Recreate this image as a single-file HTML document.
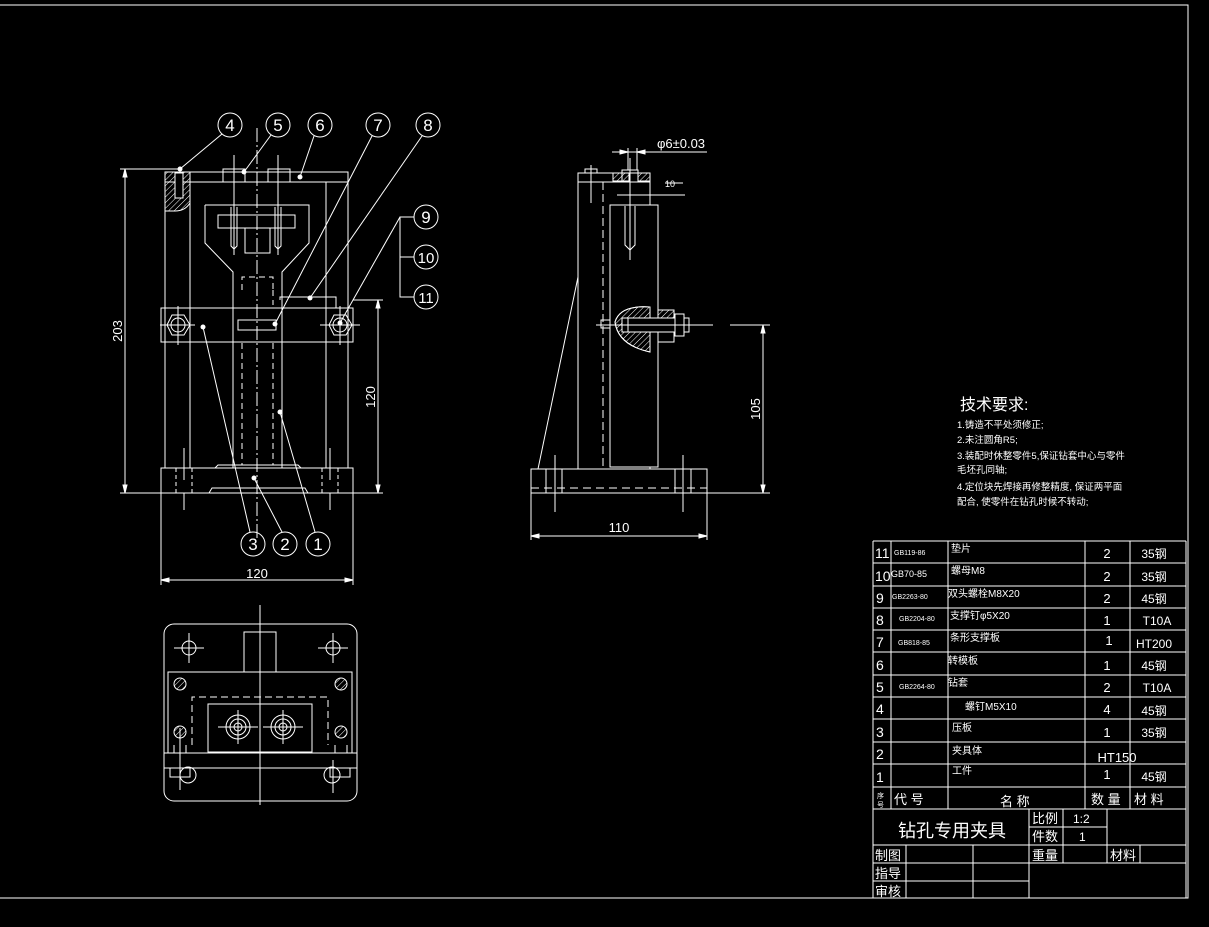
<!DOCTYPE html>
<html><head><meta charset="utf-8"><style>
html,body{margin:0;padding:0;background:#000;}
svg{display:block}
text{fill:#fff;font-family:"Liberation Sans","Noto Sans CJK SC",sans-serif;}
</style></head><body>
<svg width="1209" height="927" viewBox="0 0 1209 927" xmlns="http://www.w3.org/2000/svg">
<defs>
<pattern id="h" width="4" height="4" patternUnits="userSpaceOnUse" patternTransform="rotate(45)"><line x1="0" y1="0" x2="0" y2="4" stroke="#fff" stroke-width="1"/></pattern>
</defs>
<g stroke="#fff" stroke-width="1" fill="none">
<polyline points="0,5 1188,5 1188,898 0,898"/>

<!-- ===== FRONT VIEW ===== -->
<rect x="165" y="172" width="183" height="10"/>
<path d="M165,172 L190,172 L190,203 Q185,211 175,211 L165,211 Z" fill="url(#h)"/>
<rect x="175" y="173" width="8" height="25" fill="#000"/>
<rect x="223" y="169" width="22" height="13"/><rect x="268" y="169" width="22" height="13"/>
<line x1="165" y1="182" x2="165" y2="468"/><line x1="190" y1="182" x2="190" y2="468"/>
<line x1="326" y1="182" x2="326" y2="468"/><line x1="348" y1="182" x2="348" y2="468"/>
<line x1="184" y1="448" x2="184" y2="480"/><line x1="330" y1="448" x2="330" y2="480"/>
<path d="M205,205 H309 V243 L282,272 V468 M205,205 V243 L233,272 V468"/>
<rect x="218" y="215" width="77" height="13"/>
<path d="M245,228 V253 H270 V228"/>
<path d="M231,207 V246 L234,249 L237,246 V207 M275,207 V246 L278,249 L281,246 V207"/>
<line x1="234" y1="155" x2="234" y2="255"/><line x1="278" y1="155" x2="278" y2="255"/>
<line x1="257" y1="128" x2="257" y2="540" stroke-dasharray="14,3,2,3"/>
<g stroke-dasharray="6,4">
<path d="M242,290 V277 H273 V290"/>
<line x1="233" y1="343" x2="233" y2="465"/><line x1="242" y1="343" x2="242" y2="465"/>
<line x1="273" y1="343" x2="273" y2="465"/><line x1="282" y1="343" x2="282" y2="465"/>
<line x1="273" y1="290" x2="273" y2="305"/>
</g>
<path d="M280,300 V297 H336 V308"/>
<rect x="161" y="308" width="192" height="34"/>
<rect x="238" y="320" width="38" height="10"/>
<polygon points="167,325 172,315 184,315 190,325 184,335 172,335"/><circle cx="178" cy="325" r="7"/>
<polygon points="329,325 334,315 346,315 352,325 346,335 334,335"/><circle cx="340" cy="325" r="7"/>
<line x1="160" y1="325" x2="195" y2="325"/><line x1="320" y1="325" x2="360" y2="325"/>
<line x1="178" y1="306" x2="178" y2="345"/><line x1="340" y1="306" x2="340" y2="345"/>
<path d="M161,468 H353 V493 H308 L305,488 H212 L209,493 H161 Z"/>
<path d="M215,468 L218,465 H298 L301,468"/>
<line x1="176" y1="468" x2="176" y2="493" stroke-dasharray="4,3"/><line x1="192" y1="468" x2="192" y2="493" stroke-dasharray="4,3"/>
<line x1="322" y1="468" x2="322" y2="493" stroke-dasharray="4,3"/><line x1="338" y1="468" x2="338" y2="493" stroke-dasharray="4,3"/>
<line x1="184" y1="493" x2="184" y2="510"/><line x1="330" y1="493" x2="330" y2="510"/>
<line x1="120" y1="169" x2="180" y2="169"/><line x1="120" y1="493" x2="383" y2="493"/>
<line x1="125" y1="169" x2="125" y2="493"/>
<path d="M125,169 l-2,8 h4z M125,493 l-2,-8 h4z" fill="#fff"/>
<line x1="353" y1="300" x2="383" y2="300"/><line x1="378" y1="300" x2="378" y2="493"/>
<path d="M378,300 l-2,8 h4z M378,493 l-2,-8 h4z" fill="#fff"/>
<line x1="161" y1="493" x2="161" y2="585"/><line x1="353" y1="493" x2="353" y2="585"/>
<line x1="161" y1="580" x2="353" y2="580"/>
<path d="M161,580 l8,-2 v4z M353,580 l-8,-2 v4z" fill="#fff"/>
<circle cx="230" cy="125" r="12"/><circle cx="278" cy="125" r="12"/><circle cx="320" cy="125" r="12"/>
<circle cx="378" cy="125" r="12"/><circle cx="428" cy="125" r="12"/>
<circle cx="426" cy="217" r="12"/><circle cx="426" cy="257" r="12"/><circle cx="426" cy="297" r="12"/>
<circle cx="253" cy="544" r="12"/><circle cx="285" cy="544" r="12"/><circle cx="318" cy="544" r="12"/>
<line x1="222" y1="134" x2="180" y2="169"/><line x1="271" y1="135" x2="244" y2="172"/>
<line x1="314" y1="136" x2="300" y2="177"/><line x1="372" y1="136" x2="275" y2="324"/>
<line x1="422" y1="136" x2="310" y2="298"/>
<path d="M414,217 H400 V297 H414 M400,257 H414"/><line x1="400" y1="217" x2="340" y2="323"/>
<line x1="250" y1="532" x2="203" y2="327"/><line x1="282" y1="532" x2="254" y2="478"/><line x1="315" y1="532" x2="280" y2="412"/>
</g>
<g fill="#fff">
<circle cx="180" cy="169" r="2.5"/><circle cx="244" cy="172" r="2.5"/><circle cx="300" cy="177" r="2.5"/>
<circle cx="275" cy="324" r="2.5"/><circle cx="310" cy="298" r="2.5"/><circle cx="340" cy="323" r="2.5"/>
<circle cx="203" cy="327" r="2.5"/><circle cx="254" cy="478" r="2.5"/><circle cx="280" cy="412" r="2.5"/>
</g>
<g font-size="17" text-anchor="middle">
<text x="230" y="131">4</text><text x="278" y="131">5</text><text x="320" y="131">6</text><text x="378" y="131">7</text><text x="428" y="131">8</text>
<text x="426" y="223">9</text><text x="426" y="263" font-size="15">10</text><text x="426" y="303" font-size="15">11</text>
<text x="253" y="550">3</text><text x="285" y="550">2</text><text x="318" y="550">1</text>
</g>
<g font-size="13" text-anchor="middle">
<text x="257" y="578">120</text>
<text transform="translate(122,331) rotate(-90)">203</text>
<text transform="translate(375,397) rotate(-90)">120</text>
</g>

<!-- ===== SIDE VIEW ===== -->
<g stroke="#fff" stroke-width="1" fill="none">
<rect x="531" y="469" width="176" height="24"/>
<line x1="531" y1="488" x2="707" y2="488" stroke-dasharray="8,5"/>
<line x1="555" y1="455" x2="555" y2="512"/><line x1="683" y1="455" x2="683" y2="512"/>
<line x1="562" y1="469" x2="562" y2="493"/><line x1="546" y1="469" x2="546" y2="493"/>
<line x1="675" y1="469" x2="675" y2="493"/><line x1="691" y1="469" x2="691" y2="493"/>
<rect x="578" y="173" width="72" height="296"/>
<line x1="578" y1="182" x2="650" y2="182"/>
<rect x="585" y="169" width="12" height="4"/><line x1="591" y1="165" x2="591" y2="203"/>
<rect x="610" y="205" width="48" height="262" fill="#000"/>
<rect x="613" y="173" width="16" height="8" fill="url(#h)"/><rect x="638" y="173" width="12" height="8" fill="url(#h)"/>
<rect x="622" y="170" width="16" height="12"/>
<line x1="630" y1="158" x2="630" y2="260"/>
<path d="M625,206 V245 L630,250 L635,245 V206"/>
<line x1="603" y1="182" x2="603" y2="467" stroke-dasharray="8,4"/>
<line x1="538" y1="469" x2="578" y2="277"/>
<path d="M650,307 Q620,305 615,322 Q618,345 650,352 Z" fill="#000"/>
<path d="M650,307 Q620,305 615,322 Q618,345 650,352 Z" fill="url(#h)"/>
<rect x="658" y="310" width="16" height="9" fill="url(#h)"/><rect x="658" y="319" width="16" height="23"/>
<rect x="622" y="318" width="53" height="14" fill="#000"/>
<rect x="675" y="314" width="9" height="22"/><rect x="684" y="318" width="5" height="14"/>
<line x1="628" y1="318" x2="628" y2="332"/>
<rect x="601" y="320" width="9" height="8"/>
<line x1="596" y1="325" x2="713" y2="325"/><line x1="730" y1="325" x2="770" y2="325"/>
<line x1="707" y1="493" x2="770" y2="493"/>
<line x1="763" y1="325" x2="763" y2="493"/>
<path d="M763,325 l-2,8 h4z M763,493 l-2,-8 h4z" fill="#fff"/>
<line x1="531" y1="493" x2="531" y2="540"/><line x1="707" y1="493" x2="707" y2="540"/>
<line x1="531" y1="536" x2="707" y2="536"/>
<path d="M531,536 l8,-2 v4z M707,536 l-8,-2 v4z" fill="#fff"/>
<line x1="612" y1="152" x2="707" y2="152"/><line x1="628" y1="148" x2="628" y2="170"/><line x1="637" y1="148" x2="637" y2="170"/>
<path d="M628,152 l-8,-2 v4z M637,152 l8,-2 v4z" fill="#fff"/>
<line x1="617" y1="195" x2="685" y2="195"/><line x1="665" y1="183" x2="683" y2="183"/>
</g>
<g font-size="13" text-anchor="middle">
<text x="681" y="148">φ6±0.03</text>
<text x="619" y="532">110</text>
<text transform="translate(760,409) rotate(-90)">105</text>
<text x="670" y="187" font-size="9">10</text>
</g>

<!-- ===== TOP VIEW ===== -->
<g stroke="#fff" stroke-width="1" fill="none">
<rect x="164" y="624" width="193" height="177" rx="10"/>
<rect x="244" y="632" width="32" height="40"/>
<circle cx="189" cy="648" r="7"/><circle cx="333" cy="648" r="7"/>
<path d="M174,648 h30 M189,633 v30 M318,648 h30 M333,633 v30"/>
<rect x="168" y="672" width="184" height="81"/>
<g fill="url(#h)"><circle cx="180" cy="684" r="6"/><circle cx="341" cy="684" r="6"/><circle cx="180" cy="732" r="6"/><circle cx="341" cy="732" r="6"/></g>
<path d="M192,745 V697 H328 V745" stroke-dasharray="7,4"/>
<rect x="208" y="704" width="104" height="48"/>
<circle cx="238" cy="727" r="12"/><circle cx="238" cy="727" r="8"/><circle cx="238" cy="727" r="4"/>
<circle cx="283" cy="727" r="12"/><circle cx="283" cy="727" r="8"/><circle cx="283" cy="727" r="4"/>
<path d="M218,727 h40 M238,710 v34 M263,727 h40 M283,710 v34"/>
<line x1="164" y1="753" x2="357" y2="753"/><line x1="164" y1="768" x2="357" y2="768"/>
<path d="M174,745 V753 M186,745 V753 M335,745 V753 M347,745 V753"/>
<rect x="170" y="768" width="20" height="9"/><circle cx="188" cy="775" r="8"/>
<rect x="330" y="768" width="20" height="9"/><circle cx="332" cy="775" r="8"/>
<line x1="180" y1="728" x2="180" y2="790"/><line x1="333" y1="760" x2="333" y2="793"/>
<line x1="260" y1="605" x2="260" y2="805"/>
</g>

<!-- ===== NOTES ===== -->
<text x="960" y="410" font-size="16">技术要求:</text>
<g font-size="9.5">
<text x="957" y="428">1.铸造不平处须修正;</text>
<text x="957" y="443">2.未注圆角R5;</text>
<text x="957" y="459">3.装配时休整零件5,保证钻套中心与零件</text>
<text x="957" y="473">毛坯孔同轴;</text>
<text x="957" y="490">4.定位块先焊接再修整精度, 保证两平面</text>
<text x="957" y="505">配合, 使零件在钻孔时候不转动;</text>
</g>

<!-- ===== TABLE ===== -->
<g stroke="#fff" stroke-width="1" fill="none">
<line x1="873" y1="541" x2="1186" y2="541"/>
<line x1="873" y1="563" x2="1186" y2="563"/><line x1="873" y1="586" x2="1186" y2="586"/>
<line x1="873" y1="608" x2="1186" y2="608"/><line x1="873" y1="630" x2="1186" y2="630"/>
<line x1="873" y1="652" x2="1186" y2="652"/><line x1="873" y1="675" x2="1186" y2="675"/>
<line x1="873" y1="697" x2="1186" y2="697"/><line x1="873" y1="719" x2="1186" y2="719"/>
<line x1="873" y1="742" x2="1186" y2="742"/><line x1="873" y1="764" x2="1186" y2="764"/>
<line x1="873" y1="787" x2="1186" y2="787"/><line x1="873" y1="809" x2="1186" y2="809"/>
<line x1="873" y1="541" x2="873" y2="898"/>
<line x1="891" y1="541" x2="891" y2="809"/><line x1="948" y1="541" x2="948" y2="809"/>
<line x1="1085" y1="541" x2="1085" y2="809"/><line x1="1130" y1="541" x2="1130" y2="809"/>
<line x1="1186" y1="541" x2="1186" y2="898"/>
<line x1="1029" y1="809" x2="1029" y2="898"/><line x1="1063" y1="809" x2="1063" y2="863"/>
<line x1="1107" y1="809" x2="1107" y2="863"/><line x1="1140" y1="845" x2="1140" y2="863"/>
<line x1="1029" y1="827" x2="1107" y2="827"/>
<line x1="873" y1="845" x2="1186" y2="845"/>
<line x1="873" y1="863" x2="1186" y2="863"/><line x1="873" y1="881" x2="1029" y2="881"/>
<line x1="906" y1="845" x2="906" y2="898"/><line x1="973" y1="845" x2="973" y2="898"/>
</g>
<g font-size="14">
<text x="875" y="558">11</text><text x="875" y="581">10</text><text x="876" y="603">9</text><text x="876" y="625">8</text>
<text x="876" y="647">7</text><text x="876" y="670">6</text><text x="876" y="692">5</text><text x="876" y="714">4</text>
<text x="876" y="737">3</text><text x="876" y="759">2</text><text x="876" y="782">1</text>
</g>
<g font-size="7">
<text x="894" y="555">GB119-86</text><text x="891" y="577" font-size="9">GB70-85</text><text x="892" y="599">GB2263-80</text>
<text x="899" y="621">GB2204-80</text><text x="898" y="645">GB818-85</text><text x="899" y="689">GB2264-80</text>
</g>
<g font-size="10">
<text x="951" y="552">垫片</text><text x="951" y="574">螺母M8</text><text x="948" y="597">双头螺栓M8X20</text>
<text x="950" y="619">支撑钉φ5X20</text><text x="950" y="641">条形支撑板</text><text x="948" y="664">转模板</text>
<text x="948" y="686">钻套</text><text x="965" y="710">螺钉M5X10</text><text x="952" y="731">压板</text>
<text x="952" y="754">夹具体</text><text x="952" y="774">工件</text>
</g>
<g font-size="13" text-anchor="middle">
<text x="1107" y="558">2</text><text x="1107" y="581">2</text><text x="1107" y="603">2</text><text x="1107" y="625">1</text>
<text x="1109" y="645">1</text><text x="1107" y="670">1</text><text x="1107" y="692">2</text><text x="1107" y="714">4</text>
<text x="1107" y="737">1</text><text x="1117" y="762" font-family="Liberation Serif">HT150</text><text x="1107" y="779">1</text>
</g>
<g font-size="12" text-anchor="middle" font-family="Liberation Serif">
<text x="1154" y="558">35钢</text><text x="1154" y="581">35钢</text><text x="1154" y="603">45钢</text><text x="1157" y="625">T10A</text>
<text x="1154" y="648">HT200</text><text x="1154" y="670">45钢</text><text x="1157" y="692">T10A</text><text x="1154" y="715">45钢</text>
<text x="1154" y="737">35钢</text><text x="1154" y="781">45钢</text>
</g>
<text x="877" y="798" font-size="7">序</text><text x="877" y="807" font-size="7">号</text>
<text x="894" y="804" font-size="13">代 号</text>
<text x="1000" y="806" font-size="13">名 称</text>
<text x="1091" y="804" font-size="13">数 量</text>
<text x="1134" y="804" font-size="13">材 料</text>
<text x="898" y="837" font-size="18" fill="#ccc">钻孔专用夹具</text>
<text x="1032" y="823" font-size="13">比例</text><text x="1073" y="823" font-size="12">1:2</text>
<text x="1032" y="841" font-size="13">件数</text><text x="1079" y="841" font-size="12">1</text>
<text x="1032" y="860" font-size="13">重量</text><text x="1110" y="860" font-size="13">材料</text>
<text x="875" y="860" font-size="13">制图</text><text x="875" y="878" font-size="13">指导</text><text x="875" y="896" font-size="13">审核</text>
</svg>
</body></html>
